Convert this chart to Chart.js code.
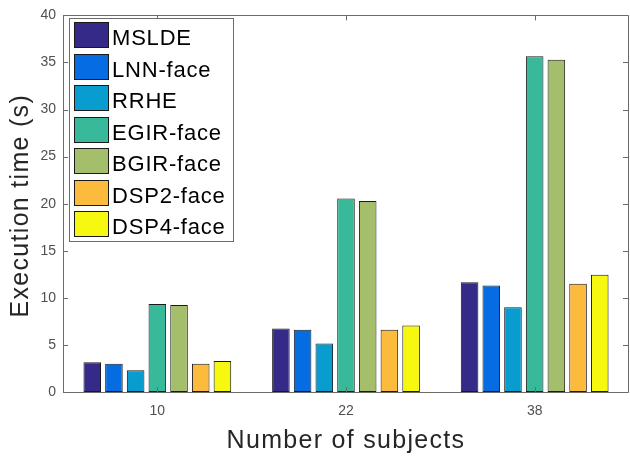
<!DOCTYPE html>
<html>
<head>
<meta charset="utf-8">
<script src="https://cdn.jsdelivr.net/npm/chart.js@4.4.1/dist/chart.umd.min.js"></script>
<style>
  html, body { margin: 0; padding: 0; background: #fff; }
  #wrap { width: 630px; height: 457px; }
</style>
</head>
<body>
<div id="wrap"><canvas id="barCanvas"></canvas></div>
<script>
const categories = ["10", "22", "38"];
const seriesNames = ["MSLDE", "LNN-face", "RRHE", "EGIR-face", "BGIR-face", "DSP2-face", "DSP4-face"];
const mslde = [3.15, 6.75, 11.65];
const lnnFace = [3.0, 6.6, 11.3];
const rrhe = [2.3, 5.15, 9.0];
const egirFace = [9.35, 20.55, 35.65];
const bgirFace = [9.25, 20.3, 35.3];
const dsp2Face = [3.0, 6.6, 11.5];
const dsp4Face = [3.28, 7.05, 12.45];
const yTicks = [0, 5, 10, 15, 20, 25, 30, 35, 40];

const seriesValues = [mslde, lnnFace, rrhe, egirFace, bgirFace, dsp2Face, dsp4Face];
const colors = ["#352a87", "#056de1", "#089ccf", "#38b99a", "#a5be6b", "#fcbb3d", "#f6f80f"];

const FONT = "'Liberation Sans', Arial, Helvetica, sans-serif";
const axisColor = "#6b6b6b";

// MATLAB-like box, inward ticks, legend and axis labels
const matlabAxes = {
  id: "matlab_axes",
  afterDatasetsDraw: (chart) => {
    const { ctx, chartArea: { left, top, right, bottom }, scales: { x, y } } = chart;
    ctx.save();
    ctx.strokeStyle = axisColor;
    ctx.lineWidth = 1;
    ctx.beginPath();
    ctx.rect(Math.round(left) + 0.5, Math.round(top) + 0.5, Math.round(right - left) - 1, Math.round(bottom - top));
    ctx.stroke();
    const tl = 5;
    ctx.beginPath();
    yTicks.forEach((v) => {
      const py = Math.round(y.getPixelForValue(v)) + 0.5;
      ctx.moveTo(left, py); ctx.lineTo(left + tl, py);
      ctx.moveTo(right - 1, py); ctx.lineTo(right - 1 - tl, py);
    });
    categories.forEach((c, i) => {
      const px = Math.round(x.getPixelForValue(i)) + 0.5;
      ctx.moveTo(px, top); ctx.lineTo(px, top + tl);
      ctx.moveTo(px, bottom); ctx.lineTo(px, bottom - tl);
    });
    ctx.stroke();
    ctx.restore();
  },
  afterDraw: (chart) => {
    const { ctx, chartArea: { left, top, right, bottom } } = chart;
    ctx.save();
    if ("letterSpacing" in ctx) ctx.letterSpacing = "1.3px";
    ctx.fillStyle = "#262626";
    ctx.font = "25px " + FONT;
    ctx.textAlign = "center";
    ctx.textBaseline = "alphabetic";
    ctx.fillText("Number of subjects", (left + right) / 2, 448);
    ctx.save();
    ctx.translate(28, (top + bottom) / 2 + 2);
    ctx.rotate(-Math.PI / 2);
    ctx.fillText("Execution time (s)", 0, 0);
    ctx.restore();

    // legend
    const lx = 69, ly = 18, lw = 164, lh = 223;
    ctx.fillStyle = "#fff";
    ctx.fillRect(lx, ly, lw, lh);
    ctx.strokeStyle = axisColor;
    ctx.strokeRect(lx + 0.5, ly + 0.5, lw, lh);
    if ("letterSpacing" in ctx) ctx.letterSpacing = "0.8px";
    ctx.font = "22px " + FONT;
    ctx.textAlign = "left";
    chart.data.datasets.forEach((ds, i) => {
      const ry = ly + 4 + i * 31.5;
      ctx.fillStyle = ds.backgroundColor;
      ctx.fillRect(74.5, Math.round(ry) + 0.5, 34, 25);
      ctx.strokeStyle = "#1a1a1a";
      ctx.strokeRect(74.5, Math.round(ry) + 0.5, 34, 25);
      ctx.fillStyle = "#000";
      ctx.fillText(ds.label, 112, ry + 23);
    });
    ctx.restore();
  },
};

const data = {
  labels: categories,
  datasets: seriesNames.map((name, i) => ({
    label: name,
    data: seriesValues[i],
    backgroundColor: colors[i],
    borderColor: "#1a1a1a",
    borderWidth: 1,
    borderSkipped: false,
    categoryPercentage: 0.805,
    barPercentage: 0.81,
  })),
};

const config = {
  type: "bar",
  data: data,
  options: {
    responsive: true,
    maintainAspectRatio: false,
    animation: false,
    layout: { padding: { top: 10, right: 1, left: 0, bottom: 0 } },
    plugins: {
      legend: { display: false },
      tooltip: { enabled: false },
    },
    scales: {
      x: {
        grid: { display: false, drawTicks: false },
        border: { display: false },
        ticks: {
          font: { size: 14, family: FONT },
          color: "#505050",
          padding: 11,
        },
        afterFit: (scale) => { scale.height = 65; },
      },
      y: {
        min: 0,
        max: 40,
        grid: { display: false, drawTicks: false },
        border: { display: false },
        ticks: {
          stepSize: 5,
          font: { size: 14, family: FONT },
          color: "#505050",
          padding: 7,
        },
        afterFit: (scale) => { scale.width = 63; },
      },
    },
  },
  plugins: [matlabAxes],
};

const canvas = document.getElementById("barCanvas");
if (canvas) {
  new Chart(canvas.getContext("2d"), config);
} else {
  console.error("canvas not found");
}
</script>
</body>
</html>
